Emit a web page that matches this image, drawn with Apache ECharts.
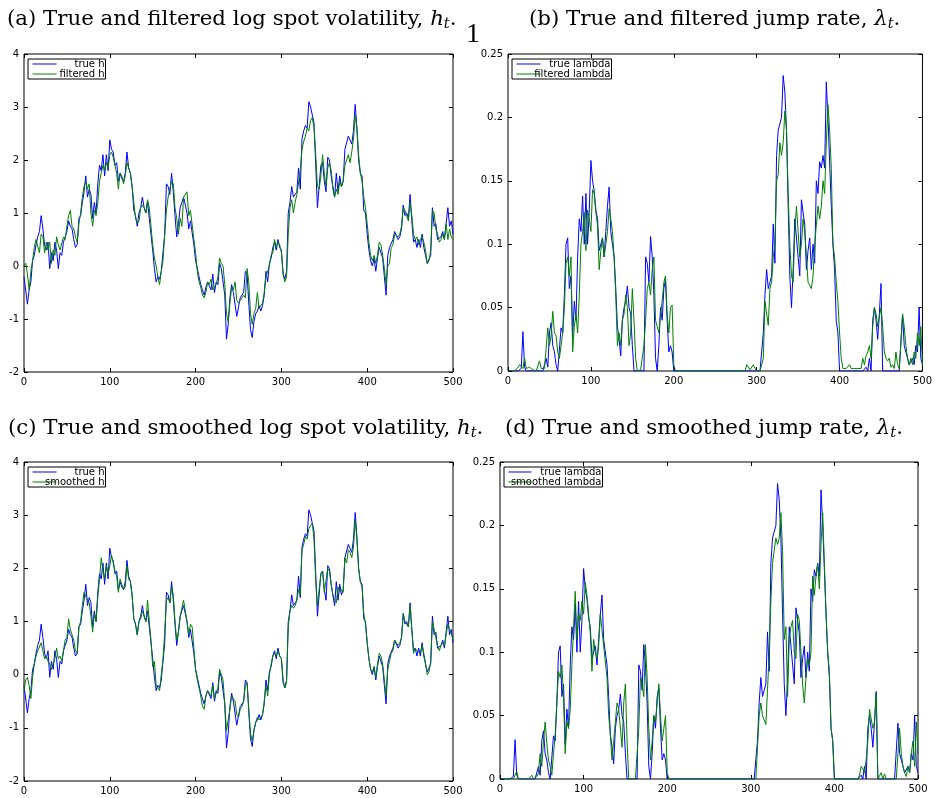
<!DOCTYPE html>
<html><head><meta charset="utf-8">
<script src="https://cdn.jsdelivr.net/npm/echarts@6/dist/echarts.min.js"></script>
<style>html,body{margin:0;padding:0;background:#fff}#c{width:935px;height:798px}</style>
</head><body><div id="c"></div>
<script>
// ---------------- data ----------------
const xTicks = [0, 100, 200, 300, 400, 500];
const hTicks = [-2, -1, 0, 1, 2, 3, 4];
const lambdaTicks = [0, 0.05, 0.1, 0.15, 0.2, 0.25];
const tStep = 2; // samples are read every 2 time steps, t = 0..500

const trueH = [
-0.2,-0.2,-0.72,-0.45,-0.3,0.1,0.2,0.4,0.55,0.65,
0.95,0.7,0.4,0.3,0.45,-0.05,0.25,0.1,0.45,0.3,
-0.05,0.25,0.2,0.45,0.55,0.65,0.85,0.75,0.7,0.5,
0.35,0.4,0.9,0.95,1.2,1.4,1.7,1.3,1.45,1.35,
0.9,1.2,1.0,1.55,1.9,1.8,2.1,1.7,2.1,1.8,
2.38,2.2,2.15,1.9,1.95,1.6,1.75,1.65,1.6,1.75,
2.15,1.85,1.75,1.5,1.05,0.95,0.75,1.0,1.1,1.3,
1.1,1.0,1.2,0.9,0.6,0.3,-0.05,-0.3,-0.2,-0.25,
-0.1,0.25,0.6,1.55,1.5,1.35,1.75,1.4,0.95,0.55,
0.8,1.1,1.2,1.3,1.3,1.0,0.7,0.85,0.85,0.4,
0.1,-0.05,-0.2,-0.35,-0.45,-0.55,-0.4,-0.3,-0.3,-0.45,
-0.15,-0.5,-0.3,-0.35,0.05,-0.05,-0.05,-0.55,-1.38,-1.1,
-0.6,-0.35,-0.5,-0.5,-0.95,-0.95,-0.6,-0.6,-0.5,-0.1,
-0.15,-0.7,-1.2,-1.35,-1.05,-0.9,-0.85,-0.75,-0.85,-0.75,
-0.55,-0.1,-0.3,0.05,0.15,0.35,0.45,0.3,0.5,0.35,
0.3,-0.15,-0.25,-0.1,1.0,1.2,1.5,1.3,1.35,1.4,
1.85,1.45,2.4,2.55,2.65,2.6,3.1,3.0,3.0,2.7,
1.9,1.1,1.5,1.9,1.95,1.6,1.4,2.05,2.0,1.7,
1.5,1.3,1.75,1.4,1.7,1.5,1.6,2.2,2.2,2.45,
2.45,2.3,2.55,3.05,2.6,2.0,1.75,1.7,1.05,1.0,
0.6,0.3,0.1,0.0,0.15,-0.1,0.15,0.35,0.35,0.15,
-0.2,-0.55,0.2,0.35,0.35,0.5,0.65,0.65,0.5,0.55,
0.7,1.15,0.95,1.0,0.9,1.35,0.85,0.45,0.5,0.35,
0.5,0.35,0.6,0.35,0.2,0.05,0.05,0.2,1.1,0.75,
0.8,0.5,0.5,0.55,0.65,0.5,0.8,1.1,0.75,0.85,
0.6];

const filteredH = [
0.0,0.05,-0.15,-0.45,-0.1,0.1,0.35,0.5,0.5,0.25,
0.6,0.55,0.25,0.45,0.3,0.45,0.05,0.3,0.2,0.55,
0.4,0.3,0.3,0.55,0.5,0.75,0.95,1.05,0.75,0.7,
0.55,0.45,0.8,1.0,1.3,1.5,1.6,1.45,1.55,1.0,
0.75,1.05,0.95,1.2,1.6,1.75,1.9,1.8,1.95,1.85,
2.1,2.15,2.05,1.9,1.75,1.45,1.75,1.7,1.55,1.7,
1.95,1.95,1.75,1.5,1.2,0.9,0.8,0.85,1.1,1.15,
1.1,1.0,1.25,1.1,0.75,0.4,0.15,0.0,-0.2,-0.35,
-0.1,0.1,0.6,1.05,1.3,1.3,1.6,1.55,1.1,0.9,
0.6,0.9,0.75,1.3,1.3,1.4,0.95,1.05,1.05,0.5,
0.25,-0.1,-0.3,-0.4,-0.55,-0.6,-0.5,-0.3,-0.35,-0.25,
-0.45,-0.45,-0.35,-0.2,0.15,0.05,0.0,-0.35,-0.9,-1.05,
-0.7,-0.4,-0.45,-0.3,-0.65,-0.7,-0.7,-0.6,-0.55,-0.6,
-0.05,-0.3,-0.9,-1.1,-0.9,-0.8,-0.5,-0.8,-0.75,-0.7,
-0.5,-0.2,-0.2,0.0,0.2,0.25,0.5,0.35,0.45,0.4,
0.25,-0.15,-0.3,-0.2,0.6,1.1,1.25,1.0,1.2,1.35,
1.35,1.8,2.2,2.35,2.45,2.6,2.55,2.75,2.8,2.6,
2.1,1.5,1.45,1.7,2.1,1.75,1.5,1.85,1.95,1.8,
1.45,1.3,1.45,1.35,1.6,1.5,1.6,1.9,2.0,2.1,
1.95,2.15,2.4,2.85,2.6,2.1,1.75,1.6,1.3,1.1,
0.8,0.45,0.2,0.1,0.2,0.05,0.2,0.45,0.4,0.2,
-0.05,-0.35,0.0,0.05,0.35,0.4,0.6,0.6,0.55,0.6,
0.75,1.1,1.05,0.95,0.85,1.2,0.95,0.6,0.5,0.55,
0.4,0.5,0.55,0.45,0.3,0.05,0.1,0.3,1.05,1.0,
0.7,0.6,0.45,0.5,0.6,0.5,0.8,0.5,0.7,0.55,
0.5];

const smoothedH = [
-0.3,-0.1,-0.05,-0.2,-0.45,-0.05,0.2,0.35,0.45,0.45,
0.6,0.45,0.3,0.35,0.25,0.2,0.1,0.2,0.3,0.5,
0.3,0.35,0.25,0.45,0.65,0.7,1.05,0.85,0.75,0.65,
0.45,0.4,0.9,1.0,1.3,1.55,1.55,1.4,1.35,1.1,
0.8,1.15,1.0,1.45,1.8,2.2,1.95,1.8,2.05,1.9,
2.05,2.25,2.1,1.95,1.85,1.55,1.8,1.7,1.6,1.65,
2.05,1.8,1.75,1.5,1.05,0.95,0.75,1.0,1.05,1.2,
1.1,1.0,1.4,1.0,0.65,0.15,0.25,-0.2,-0.25,-0.3,
0.0,0.3,0.8,1.4,1.45,1.35,1.65,1.5,1.0,0.65,
0.8,1.1,1.25,1.4,1.4,1.0,0.75,0.95,0.9,0.5,
0.1,-0.1,-0.25,-0.4,-0.6,-0.65,-0.4,-0.3,-0.3,-0.4,
-0.2,-0.45,-0.35,-0.25,0.1,0.0,-0.1,-0.55,-1.05,-1.05,
-0.65,-0.4,-0.45,-0.5,-0.75,-0.8,-0.65,-0.6,-0.5,-0.2,
-0.15,-0.65,-1.1,-1.25,-1.05,-0.9,-0.8,-0.85,-0.8,-0.75,
-0.5,-0.2,-0.4,0.0,0.2,0.35,0.4,0.35,0.45,0.35,
0.3,-0.1,-0.25,-0.15,0.9,1.2,1.3,1.25,1.3,1.4,
1.6,1.5,2.35,2.45,2.6,2.55,2.75,2.8,2.85,2.55,
1.75,1.3,1.6,1.9,1.95,1.55,1.55,2.0,1.95,1.7,
1.5,1.4,1.35,1.65,1.55,1.6,1.55,2.2,2.1,2.35,
2.3,2.2,2.4,2.9,2.55,2.0,1.75,1.65,1.15,0.95,
0.6,0.3,0.1,0.05,0.15,-0.05,0.2,0.4,0.35,0.2,
-0.1,-0.4,0.1,0.25,0.4,0.45,0.65,0.6,0.55,0.6,
0.7,1.15,1.0,1.0,0.9,1.3,0.85,0.4,0.5,0.45,
0.45,0.4,0.55,0.4,0.2,0.0,0.05,0.25,1.0,0.85,
0.7,0.55,0.45,0.55,0.6,0.55,0.75,0.95,0.85,0.8,
0.65];

const trueLambda = [
0,0,0,0,0,0,0,0,0.002,0.031,
0.003,0,0,0,0,0,0,0,0,0,
0,0,0,0.01,0.003,0.03,0.038,0.02,0.015,0.005,
0,0,0.034,0.03,0.06,0.1,0.105,0.065,0.075,0.027,
0.055,0.04,0.09,0.12,0.11,0.138,0.1,0.14,0.1,0.125,
0.166,0.15,0.142,0.127,0.12,0.095,0.1,0.105,0.09,0.11,
0.13,0.145,0.11,0.11,0.09,0.065,0.035,0.025,0.012,0.04,
0.05,0.055,0.067,0.05,0.045,0.02,0,0,0,0,
0,0,0,0.09,0.085,0.07,0.106,0.09,0.06,0.01,
0,0.02,0.05,0.04,0.065,0.072,0.04,0.015,0.02,0.015,
0,0,0,0,0,0,0,0,0,0,
0,0,0,0,0,0,0,0,0,0,
0,0,0,0,0,0,0,0,0,0,
0,0,0,0,0,0,0,0,0,0,
0,0,0,0,0,0,0,0,0,0,
0,0,0,0,0.03,0.06,0.08,0.065,0.07,0.075,
0.116,0.085,0.17,0.19,0.19,0.2,0.233,0.22,0.19,0.13,
0.075,0.05,0.08,0.12,0.12,0.09,0.075,0.135,0.135,0.115,
0.08,0.095,0.105,0.08,0.1,0.085,0.15,0.14,0.165,0.16,
0.17,0.16,0.228,0.2,0.165,0.13,0.1,0.08,0.04,0.03,
0,0,0,0,0,0,0,0,0,0,
0,0,0,0,0,0,0.003,0,0.01,0,
0.04,0.05,0.04,0.025,0.045,0.069,0,0,0,0,
0,0,0,0,0,0,0,0,0.044,0.02,
0.02,0.01,0.005,0.005,0.01,0.005,0.02,0.015,0.05,0.01,
0.005];

const filteredLambda = [
0,0,0,0,0,0.001,0.003,0.005,0.005,0.002,
0.01,0.002,0.002,0.003,0.004,0.001,0,0,0,0.008,
0.002,0.002,0.002,0.002,0.034,0.02,0.028,0.047,0.03,0.028,
0.015,0.01,0.01,0.03,0.05,0.085,0.09,0.075,0.09,0.015,
0.035,0.045,0.03,0.06,0.1,0.11,0.125,0.095,0.127,0.12,
0.11,0.143,0.14,0.125,0.115,0.08,0.095,0.105,0.09,0.1,
0.11,0.128,0.12,0.11,0.09,0.06,0.02,0.03,0.02,0.04,
0.045,0.06,0.05,0.02,0.03,0.065,0.04,0.01,0,0,
0.001,0,0.02,0.04,0.065,0.07,0.06,0.08,0.09,0.04,
0.035,0.03,0.045,0.055,0.07,0.075,0.045,0.03,0.05,0.052,
0.005,0,0,0,0,0,0,0,0,0,
0,0,0,0,0,0,0,0,0,0,
0,0,0,0,0,0,0,0,0,0,
0,0,0,0,0,0,0,0,0,0,
0,0,0,0,0.005,0.006,0.001,0.002,0.005,0.002,
0,0,0,0,0.01,0.055,0.055,0.036,0.065,0.07,
0.09,0.1,0.15,0.155,0.18,0.17,0.18,0.205,0.19,0.14,
0.1,0.075,0.07,0.11,0.13,0.11,0.09,0.1,0.12,0.11,
0.09,0.07,0.07,0.065,0.075,0.1,0.115,0.13,0.12,0.13,
0.15,0.14,0.18,0.21,0.19,0.16,0.1,0.09,0.07,0.055,
0.03,0.01,0.002,0.002,0.002,0.002,0.005,0.002,0.002,0.002,
0.002,0.002,0.002,0.002,0.01,0.005,0.012,0.015,0.02,0.01,
0.035,0.05,0.045,0.035,0.035,0.05,0.035,0.015,0.01,0.008,
0.01,0.003,0.005,0.002,0.015,0.005,0.002,0.001,0.045,0.035,
0.02,0.01,0.005,0.01,0.005,0.015,0.01,0.03,0.02,0.035,
0.005];

const smoothedLambda = [
0,0,0,0,0,0,0,0,0,0.003,
0.006,0,0,0,0,0,0,0,0,0.003,
0,0,0.002,0.005,0.02,0.01,0.03,0.045,0.028,0.015,
0.01,0.003,0.02,0.035,0.06,0.085,0.08,0.09,0.065,0.02,
0.045,0.04,0.055,0.09,0.12,0.148,0.11,0.13,0.125,0.14,
0.13,0.155,0.145,0.13,0.115,0.085,0.11,0.1,0.095,0.105,
0.13,0.13,0.105,0.105,0.08,0.05,0.035,0.015,0.03,0.045,
0.06,0.055,0.04,0.025,0.06,0.075,0.03,0,0,0,
0,0,0,0.04,0.08,0.075,0.065,0.106,0.08,0.04,
0.015,0.03,0.05,0.045,0.06,0.075,0.05,0.03,0.04,0.05,
0.005,0,0,0,0,0,0,0,0,0,
0,0,0,0,0,0,0,0,0,0,
0,0,0,0,0,0,0,0,0,0,
0,0,0,0,0,0,0,0,0,0,
0,0,0,0,0,0,0,0,0,0,
0,0,0,0,0,0.05,0.06,0.05,0.05,0.043,
0.07,0.1,0.14,0.17,0.18,0.19,0.185,0.19,0.21,0.18,
0.11,0.12,0.065,0.11,0.12,0.125,0.1,0.095,0.13,0.125,
0.1,0.075,0.06,0.08,0.095,0.09,0.1,0.16,0.145,0.16,
0.17,0.15,0.185,0.21,0.17,0.13,0.1,0.085,0.04,0.03,
0,0,0,0,0,0,0,0,0,0,
0,0,0,0,0,0.003,0.01,0.008,0.005,0.015,
0.03,0.055,0.055,0.04,0.045,0.068,0,0,0.005,0,
0.004,0,0,0,0,0,0,0,0.02,0.04,
0.02,0.01,0.005,0.002,0.01,0.005,0.02,0.03,0.01,0.045,
0.02];

// ---------------- chart ----------------
const BLUE = '#0000ff', GREEN = '#008000';
const pairs = arr => arr.map((v, i) => [i * tStep, v]);

const panels = [
  {grid:{left:24, top:54, width:429, height:318}, yt:hTicks,
   s:[['true h', trueH, BLUE], ['filtered h', filteredH, GREEN]], lg:{left:28, top:59, w:43, iw:24}},
  {grid:{left:508, top:54, width:418, height:317}, yt:lambdaTicks,
   s:[['true lambda', trueLambda, BLUE], ['filtered lambda', filteredLambda, GREEN]], lg:{left:512, top:59, w:65, iw:24}},
  {grid:{left:24, top:462, width:429, height:319}, yt:hTicks,
   s:[['true h', trueH, BLUE], ['smoothed h', smoothedH, GREEN]], lg:{left:28, top:467, w:43, iw:24}},
  {grid:{left:500, top:462, width:418, height:317}, yt:lambdaTicks,
   s:[['true lambda', trueLambda, BLUE], ['smoothed lambda', smoothedLambda, GREEN]], lg:{left:504, top:467, w:65, iw:23}}
];

const labelFont = {fontSize:10, fontFamily:'DejaVu Sans', color:'#000'};
const tick = {inside:true, length:4, lineStyle:{color:'#000', width:1}};
const noLine = {show:false, onZero:false};
const grids = [], xAxes = [], yAxes = [], series = [], legends = [];

panels.forEach((p, i) => {
  grids.push(Object.assign({show:true, borderColor:'#000', borderWidth:1, backgroundColor:'transparent'}, p.grid));
  const xb = {gridIndex:i, type:'value', min:xTicks[0], max:xTicks[xTicks.length-1], interval:xTicks[1]-xTicks[0],
    axisLine:noLine, splitLine:{show:false}, axisTick:tick};
  xAxes.push(Object.assign({}, xb, {position:'bottom', axisLabel:Object.assign({margin:5, showMinLabel:true, showMaxLabel:true}, labelFont)}));
  xAxes.push(Object.assign({}, xb, {position:'top', axisLabel:{show:false}}));
  const yb = {gridIndex:i, type:'value', min:p.yt[0], max:p.yt[p.yt.length-1], interval:p.yt[1]-p.yt[0],
    axisLine:noLine, splitLine:{show:false}, axisTick:tick};
  yAxes.push(Object.assign({}, yb, {position:'left', axisLabel:Object.assign({margin:5, showMinLabel:true, showMaxLabel:true}, labelFont)}));
  yAxes.push(Object.assign({}, yb, {position:'right', axisLabel:{show:false}}));
  p.s.forEach(([name, arr, color]) => {
    series.push({type:'line', name, data:pairs(arr), xAxisIndex:2*i, yAxisIndex:2*i,
      symbol:'none', showSymbol:false, sampling:'none', animation:false,
      lineStyle:{width:1, color}, itemStyle:{color}, emphasis:{disabled:true}});
  });
  legends.push({data:p.s.map(d => d[0]), orient:'vertical', left:p.lg.left, top:p.lg.top,
    backgroundColor:'#fff', borderColor:'#000', borderWidth:1, borderRadius:0,
    padding:[0, 1, 0, 4.5], itemGap:0, itemWidth:p.lg.iw, itemHeight:1, icon:'rect',
    selectedMode:false,
    formatter: n => '{r|' + n + '}',
    textStyle:{fontSize:10, fontFamily:'DejaVu Sans', color:'#000', lineHeight:9.6,
      rich:{r:{width:p.lg.w, align:'right', fontSize:10, fontFamily:'DejaVu Sans', color:'#000', lineHeight:9.6}}}});
});

const serif = 'DejaVu Serif';
const rich = {
  n:{fontFamily:serif, fontSize:21.3, lineHeight:26, fill:'#000'},
  i:{fontFamily:serif, fontSize:21.3, fontStyle:'italic', lineHeight:26, fill:'#000'},
  s:{fontFamily:serif, fontSize:14.5, fontStyle:'italic', lineHeight:15, verticalAlign:'bottom', fill:'#000'}
};
function title(x, y, pre, sym) {
  return {type:'text', x, y, silent:true,
    style:{text:'{n|' + pre + '}{i|' + sym + '}{s|t}{n|.}', rich, verticalAlign:'middle', align:'left'}};
}

const chart = echarts.init(document.getElementById('c'), null, {renderer:'canvas'});
chart.setOption({
  animation:false,
  backgroundColor:'#fff',
  grid:grids, xAxis:xAxes, yAxis:yAxes, series, legend:legends,
  tooltip:{show:false},
  graphic:[
    title(7, 19, '(a) True and filtered log spot volatility, ', 'h'),
    title(529, 19, '(b) True and filtered jump rate, ', 'λ'),
    title(8, 428, '(c) True and smoothed log spot volatility, ', 'h'),
    title(505, 428, '(d) True and smoothed jump rate, ', 'λ'),
    {type:'text', x:473, y:35, silent:true,
      style:{text:'1', fontFamily:'Liberation Serif', fontSize:28, fill:'#000', align:'center', verticalAlign:'middle'}}
  ]
});
</script>
</body></html>
